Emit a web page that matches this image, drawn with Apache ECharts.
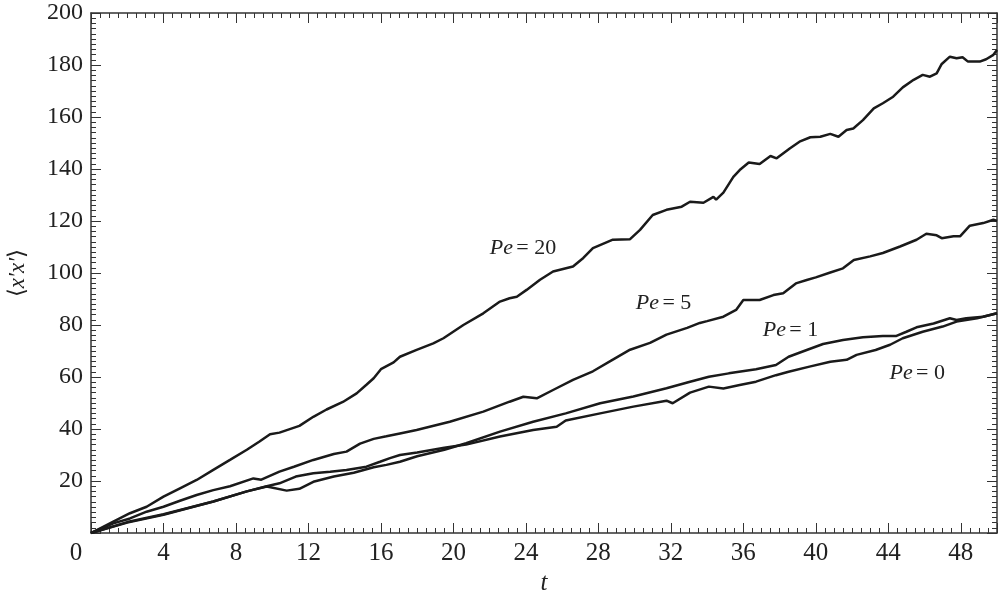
<!DOCTYPE html>
<html>
<head>
<meta charset="utf-8">
<script src="https://cdn.jsdelivr.net/npm/echarts@6/dist/echarts.min.js"></script>
<style>
html,body{margin:0;padding:0;background:#fff;}
#main{width:999px;height:598px;}
</style>
</head>
<body>
<div id="main"></div>
<script>
// Data (t, <x'x'>)
const pe20 = [[0,0],[1.23,4.4],[2.15,7.6],[3.07,10.1],[4,14],[4.91,17.2],[5.83,20.4],[6.75,24.3],[7.67,28.1],[8.6,32],[9.3,35.2],[9.88,38],[10.4,38.6],[11.5,41.2],[12.27,44.7],[13,47.5],[13.9,50.4],[14.66,53.7],[15.2,57],[15.6,59.5],[16,63],[16.7,65.6],[17.05,67.8],[17.97,70.4],[18.89,72.9],[19.45,74.9],[20.55,80],[21.65,84.5],[22.57,89],[23.1,90.3],[23.5,90.9],[24.04,93.5],[24.78,97.4],[25.5,100.6],[26.6,102.5],[27.17,105.8],[27.7,109.6],[28.8,112.8],[29.75,113],[30.3,116.6],[31,122.3],[31.76,124.3],[32.6,125.5],[33.06,127.4],[33.8,127],[34.35,129.3],[34.5,128.2],[34.9,130.9],[35.45,137],[35.8,139.6],[36.3,142.5],[36.9,141.9],[37.5,145],[37.84,144.1],[38.58,148],[39.1,150.5],[39.7,152.2],[40.25,152.4],[40.8,153.5],[41.25,152.4],[41.7,155],[42.07,155.6],[42.6,158.8],[43.2,163.3],[43.7,165.3],[44.27,167.8],[44.8,171.4],[45.4,174.3],[45.9,176.2],[46.3,175.5],[46.67,176.8],[46.95,180.4],[47.4,183.2],[47.77,182.6],[48.1,183],[48.4,181.3],[49.05,181.3],[49.4,182.2],[49.8,183.9],[50,185.8]];
const pe5 = [[0,0],[1.23,3.7],[2.15,5.6],[3.07,8.2],[4,10.1],[4.91,12.4],[5.83,14.6],[6.75,16.5],[7.67,18],[8.96,21],[9.4,20.5],[10.4,23.6],[11.2,25.5],[12.27,28.1],[13.4,30.4],[14.1,31.3],[14.85,34.4],[15.6,36.2],[16.3,37.2],[17.05,38.3],[17.97,39.6],[19.8,42.8],[21.65,46.7],[23.1,50.5],[23.86,52.4],[24.6,51.8],[25.5,55],[26.6,58.9],[27.7,62.2],[28.8,66.7],[29.75,70.5],[30.85,73.1],[31.76,76.3],[32.9,78.9],[33.6,80.8],[34,81.5],[34.9,83.2],[35.6,85.8],[36,89.6],[36.9,89.6],[37.66,91.5],[38.2,92.2],[38.9,96],[39.5,97.3],[40,98.3],[40.8,100.2],[41.5,101.8],[42.1,105],[43,106.4],[43.7,107.7],[44.65,110.2],[45.56,112.8],[46.1,115.1],[46.67,114.5],[46.95,113.4],[47.6,114.1],[47.96,114.1],[48.5,118.2],[49.24,119.2],[49.8,120.5],[50,120]];
const pe1 = [[0,0],[2,4],[4,7],[6.75,12.1],[8.6,16],[9.7,17.9],[10.8,16.3],[11.5,17],[12.27,19.7],[13.4,21.7],[14.5,23.2],[15.6,25.3],[16.3,26.2],[17.05,27.4],[18,29.5],[19.5,32],[20.7,34.5],[22.57,39],[24.4,42.8],[26.2,46],[28.1,49.9],[29.93,52.5],[31.76,55.7],[33.06,58.2],[34.1,60.1],[35.2,61.4],[36.7,63],[37.8,64.6],[38.5,67.8],[39.5,70.4],[40.4,72.7],[41.5,74.2],[42.6,75.3],[43.7,75.8],[44.45,75.8],[45,77.4],[45.56,79.1],[46.5,80.6],[47.4,82.6],[47.77,81.9],[48.3,82.6],[49.24,83.2],[50,84.5]];
const pe0 = [[0,0],[2,4.2],[4,7.2],[6.75,12.1],[8.6,16],[9.7,18],[10.4,19.1],[11.3,21.7],[12.27,23],[13.2,23.6],[14.1,24.2],[15.2,25.5],[15.95,27.4],[16.5,28.8],[17.05,30],[18,31],[19.5,32.8],[20.7,34],[22.57,37.1],[24.4,39.6],[25.7,40.9],[26.2,43.3],[28.1,46],[29.93,48.6],[31.76,50.9],[32.1,49.9],[33.06,54],[34.1,56.3],[34.9,55.6],[35.8,56.9],[36.7,58.2],[37.8,60.7],[38.5,62],[39.65,64],[40.8,65.9],[41.7,66.6],[42.25,68.5],[43.3,70.4],[44.1,72.4],[44.8,74.9],[45.9,77.4],[47,79.4],[47.77,81.3],[48.9,82.6],[50,84.5]];

const seriesNames = ['Pe = 20','Pe = 5','Pe = 1','Pe = 0'];
const seriesData = [pe20, pe5, pe1, pe0];
// label anchor positions in data coordinates [t, value], and the number shown
const labelAnchors = [[23.84,109.6],[31.6,88.5],[38.6,78],[45.6,61.5]];
const labelNumbers = ['20','5','1','0'];

const xTicks = {min:0, max:50, interval:4};
const yTicks = {min:0, max:200, interval:20};

const FONT = 'Liberation Serif';
const AX = '#333';

const chart = echarts.init(document.getElementById('main'), null, {renderer:'canvas'});

function xAxisCfg(pos, showLabels){
  return {
    type:'value', position:pos, min:xTicks.min, max:xTicks.max, interval:xTicks.interval,
    axisLine:{show:true, onZero:false, lineStyle:{color:AX, width:1.5}},
    axisTick:{show:true, inside:true, length:10, lineStyle:{color:AX, width:1}},
    minorTick:{show:true, splitNumber:8, length:5, lineStyle:{color:AX, width:1}},
    splitLine:{show:false},
    axisLabel:{show:showLabels, margin:8, fontFamily:FONT, fontSize:25, color:'#222',
      showMaxLabel:false,
      formatter:function(v){ return v===0 ? '{z|0}' : String(v); },
      rich:{z:{fontFamily:FONT, fontSize:25, color:'#222', padding:[0,30,0,0]}}
    },
    name: showLabels ? 't' : '',
    nameLocation:'middle', nameGap:33,
    nameTextStyle:{fontFamily:FONT, fontSize:25, fontStyle:'italic', color:'#222'}
  };
}
function yAxisCfg(pos, showLabels){
  return {
    type:'value', position:pos, min:yTicks.min, max:yTicks.max, interval:yTicks.interval,
    axisLine:{show:true, onZero:false, lineStyle:{color:AX, width:1.5}},
    axisTick:{show:true, inside:true, length:10, lineStyle:{color:AX, width:1}},
    minorTick:{show:true, splitNumber:10, length:5, lineStyle:{color:AX, width:1}},
    splitLine:{show:false},
    axisLabel:{show:showLabels, margin:8, fontFamily:FONT, fontSize:24, color:'#222', showMinLabel:false},
    name: showLabels ? '{a|\u27E8}{b|x\u2032x\u2032}{a|\u27E9}' : '',
    nameLocation:'middle', nameGap:62, nameRotate:90,
    nameTextStyle:{fontFamily:FONT, fontSize:23, color:'#222',
      rich:{a:{fontFamily:FONT, fontSize:23, color:'#222'}, b:{fontFamily:FONT, fontSize:23, fontStyle:'italic', color:'#222'}}}
  };
}

const option = {
  animation:false,
  backgroundColor:'#fff',
  textStyle:{fontFamily:FONT},
  grid:{left:91, right:2, top:13, bottom:65, outerBoundsMode:'none'},
  xAxis:[xAxisCfg('bottom', true), xAxisCfg('top', false)],
  yAxis:[yAxisCfg('left', true), yAxisCfg('right', false)],
  series: seriesData.map(function(d, i){
    return {
      name:seriesNames[i], type:'line', data:d, xAxisIndex:0, yAxisIndex:0,
      showSymbol:false, symbol:'none', smooth:false,
      lineStyle:{color:'#1a1a1a', width:2.5}, silent:true, z:3
    };
  })
};
chart.setOption(option);

// place the Pe labels at their data coordinates
const graphics = labelAnchors.map(function(a, i){
  const p = chart.convertToPixel({xAxisIndex:0, yAxisIndex:0}, a);
  return {
    type:'text', x:p[0], y:p[1], z:10,
    style:{
      text:'{i|Pe} {n|= ' + labelNumbers[i] + '}',
      align:'center', verticalAlign:'middle',
      rich:{
        i:{fontFamily:FONT, fontSize:22, fontStyle:'italic', fill:'#222'},
        n:{fontFamily:FONT, fontSize:22, fill:'#222'}
      }
    }
  };
});
chart.setOption({graphic:graphics});
</script>
</body>
</html>
